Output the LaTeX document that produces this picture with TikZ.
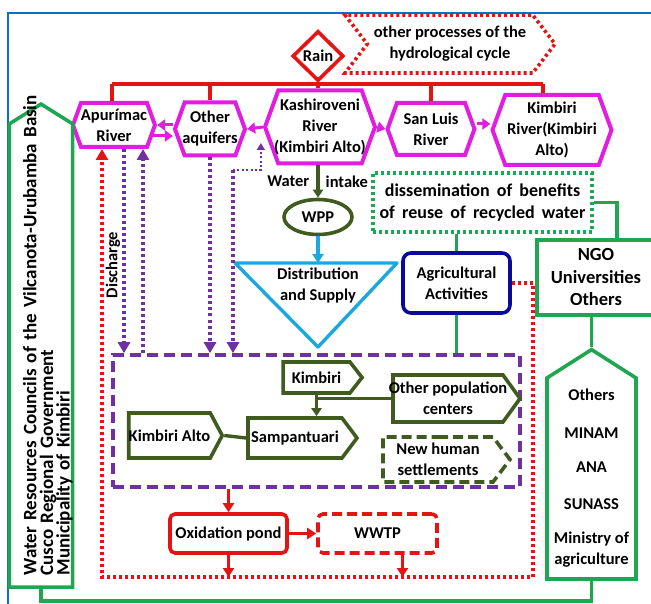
\documentclass[tikz,border=0pt]{standalone}
\usepackage{fontspec}
\setmainfont{Carlito}
\usetikzlibrary{arrows.meta,calc,shapes.geometric,shapes.symbols}
\definecolor{riverc}{HTML}{E21DE2}
\definecolor{rainc}{HTML}{E41414}
\definecolor{orgc}{HTML}{1FA651}
\definecolor{townc}{HTML}{3F5B1F}
\definecolor{aqc}{HTML}{7030A0}
\definecolor{skyc}{HTML}{1CA7DF}
\definecolor{agric}{HTML}{0A0A9E}
\definecolor{framec}{HTML}{0A70C6}
\newcommand{\widesp}{\spaceskip=0.4em\relax}
\tikzset{
  lbl/.style={font=\fontsize{16.5}{21}\selectfont\bfseries,align=center,inner sep=0pt},
  river/.style={lbl,shape=signal,signal to=east and west,signal pointer angle=140,
    draw=riverc,line width=4pt,inner xsep=-4pt},
  town/.style={lbl,shape=signal,signal to=east,signal pointer angle=108,
    draw=townc,line width=3.6pt},
  orgpent/.style={lbl,shape=signal,signal pointer angle=116,draw=orgc,line width=3.6pt},
  orgbox/.style={lbl,draw=orgc,line width=3.6pt},
  procbox/.style={lbl,shape=signal,signal from=west,signal to=east,signal pointer angle=105,
    draw=rainc,line width=3.6pt,dash pattern=on 3pt off 3pt},
  pondbox/.style={lbl,draw=rainc,line width=3.6pt,rounded corners=5pt},
  % --- connectors ---
  riverarr/.style={draw=riverc,line width=3pt,-{Triangle[length=8pt,width=11pt]}},
  rainline/.style={draw=rainc,line width=3.8pt},
  rainarr/.style={draw=rainc,line width=3pt,-{Triangle[length=9pt,width=11pt]}},
  dischg/.style={draw=rainc,line width=3.4pt,dash pattern=on 3pt off 3pt,
    -{Triangle[length=11pt,width=12pt]}},
  aqdot/.style={draw=aqc,line width=3.4pt,dash pattern=on 3pt off 3pt},
  aqthin/.style={draw=aqc,line width=2pt,dash pattern=on 2pt off 2.4pt},
  aqtip/.style={-{Triangle[length=11pt,width=12pt]}},
  townline/.style={draw=townc,line width=3.4pt},
  towntip/.style={-{Triangle[length=8pt,width=10pt]}},
  skyline/.style={draw=skyc,line width=3.4pt,line join=round},
  skyarr/.style={skyline,-{Triangle[length=9pt,width=11pt]}},
  orgline/.style={draw=orgc,line width=3.4pt},
}

\begin{document}
\begin{tikzpicture}[x=1pt,y=-1pt]
  \useasboundingbox (0,0) rectangle (651,604);
  \draw[framec,line width=2pt] (8,604) -- (8,13) -- (651,13);

  % rain and the rivers
  \node[lbl,shape=diamond,draw=rainc,line width=3.6pt,minimum width=51pt,minimum height=50pt]
    (rain) at (318,56) {Rain};
  \node[procbox,minimum width=210pt,minimum height=58pt] (proc) at (450,44)
    {other processes of the\\hydrological cycle};
  \node[river,minimum width=82pt,minimum height=44pt] (apu) at (114,125) {Apurímac\\River};
  \node[river,minimum width=70pt,minimum height=53pt] (oaq) at (210,129) {Other\\aquifers};
  \node[river,minimum width=110pt,minimum height=73pt,inner xsep=-6pt] (kash) at (320,127)
    {Kashiroveni\\River\\(Kimbiri Alto)};
  \node[river,minimum width=87pt,minimum height=52pt] (sanl) at (431,129) {San Luis\\River};
  \node[river,minimum width=119pt,minimum height=70pt] (kimriv) at (552,130)
    {Kimbiri\\River(Kimbiri\\Alto)};

  \coordinate (barL) at (112,84);
  \coordinate (barR) at (543,84);
  \draw[rainline] (barL) -- (barR);
  \draw[rainline] (barL) -- (barL |- apu.north);
  \draw[rainline] (oaq.north |- barL) -- (oaq.north);
  \draw[rainline] (rain.south) -- (rain.south |- kash.north);
  \draw[rainline] (sanl.north |- barL) -- (sanl.north);
  \draw[rainline] (barR) -- (barR |- kimriv.north);

  \draw[riverarr] (oaq.west |- 0,125) -- (apu.east |- 0,125);
  \draw[riverarr] ($(apu.east |- 0,136)+(-4,0)$) -- (oaq.west |- 0,136);
  \draw[riverarr] (kash.west) -- (oaq.east);
  \draw[riverarr] (kash.east) -- (sanl.west);
  \draw[riverarr] (sanl.east |- 0,124) -- (kimriv.west |- 0,124);

  % water supply
  \node[lbl,shape=ellipse,draw=townc,line width=3.6pt,minimum width=68pt,minimum height=35pt]
    (wpp) at (318,217) {WPP};
  \draw[townline,towntip] (wpp.north |- kash.south) --
    node[lbl,left=7pt]{Water} node[lbl,right=6pt]{intake} (wpp.north);
  \coordinate (distT) at (318,263);
  \coordinate (distA) at (318,347);
  \draw[skyline] (235,263) -- (397,263) -- (distA) -- cycle;
  \node[lbl] (dist) at (318,285) {Distribution\\and Supply};
  \draw[skyarr] (wpp.south) -- (distT);

  % population centres
  \node[lbl,draw=aqc,line width=3.6pt,dash pattern=on 11pt off 6pt,
    minimum width=407pt,minimum height=132pt] (pop) at (316.5,421) {};
  \node[town,minimum width=79pt,minimum height=31pt,signal pointer angle=104] (kimb) at (316.5,377.5) {Kimbiri};
  \node[town,minimum width=127pt,minimum height=47pt] (opc) at (448,398.5)
    {\makebox[100pt]{Other population}\\centers};
  \node[town,minimum width=109pt,minimum height=40pt,signal pointer angle=106] (samp) at (295,438) {Sampantuari};
  \node[town,minimum width=93pt,minimum height=45pt,signal pointer angle=124] (kalto) at (169.5,435.5) {Kimbiri Alto};
  \node[town,dash pattern=on 10pt off 5pt,minimum width=127pt,minimum height=45pt,signal pointer angle=106]
    (newh) at (438,459.5) {New human\\settlements};
  \draw[townline,towntip] (kimb.south) -- (kimb.south |- samp.north);
  \draw[townline] (kimb.south |- opc.west) -- (opc.west);
  \draw[townline] (kalto.east) -- (samp.west);

  % aquifer exchanges
  \coordinate (apuD) at ($(apu.south)+(10,0)$);
  \coordinate (apuU) at ($(apu.south)+(29,0)$);
  \coordinate (aqK) at (233,170);
  \coordinate (kashL) at ($(kash.west)+(-2,16)$);
  \draw[aqdot,aqtip] (apuD) -- (apuD |- pop.north);
  \draw[aqdot,aqtip] (apuU |- pop.north) -- (apuU);
  \draw[aqdot,aqtip] (oaq.south) -- (oaq.south |- pop.north);
  \draw[aqdot,aqtip] (aqK) -- (aqK |- pop.north);
  \draw[aqthin,-{Triangle[length=7pt,width=8pt]}] (aqK) -| (kashL);

  % agriculture and outreach
  \node[lbl,draw=agric,line width=3.6pt,rounded corners=8pt,minimum width=107pt,minimum height=60pt]
    (agri) at (456.5,283) {Agricultural\\Activities};
  \node[lbl,draw=orgc,line width=3.4pt,dash pattern=on 3pt off 3pt,minimum width=219pt,
    minimum height=59pt,font=\fontsize{18}{22}\selectfont\bfseries\widesp]
    (diss) at (482.5,202.5) {dissemination of benefits\\of reuse of recycled water};
  \node[orgbox,minimum width=118pt,minimum height=75pt,font=\fontsize{18.5}{22.5}\selectfont\bfseries]
    (ngo) at (596,277.5) {NGO\\Universities\\Others};
  \node[orgpent,signal to=north,minimum width=89pt,minimum height=225pt,signal pointer angle=115]
    (orgs) at (591.5,478.5)
    {Others\\[17pt]MINAM\\[13pt]ANA\\[16pt]SUNASS\\[13pt]Ministry of\\agriculture};
  \node[orgpent,signal to=east,rotate=90,align=left,text width=440pt,minimum width=483pt,
    minimum height=58pt,font=\fontsize{19}{16.7}\selectfont\bfseries] (wrc) at (41,355.5)
    {\rule{0pt}{27pt}\mbox{Water Resources Councils of the Vilcanota-Urubamba Basin}\\Cusco Regional Government\\Municipality of Kimbiri};
  \draw[orgline] (diss.east) -| ([xshift=21pt]ngo.north);
  \draw[orgline] (agri.north |- diss.south) -- (agri.north);
  \draw[orgline] (agri.south) -- (agri.south |- pop.north);
  \draw[orgline] (orgs.north |- ngo.south) -- (orgs.north);
  \draw[orgline] (wrc.west) -- ++(0,12) -| (orgs.south);

  % treatment and discharge
  \node[pondbox,minimum width=117pt,minimum height=39pt] (oxi) at (228.5,533.5) {Oxidation pond};
  \node[pondbox,dash pattern=on 10pt off 5pt,minimum width=119pt,minimum height=39pt]
    (wwtp) at (377.5,533.5) {WWTP};
  \coordinate (dR) at (533,577);
  \coordinate (dL) at (102,577);
  \coordinate (wD) at ($(wwtp.south)+(25,0)$);
  \draw[dischg] (agri.east) -| (dR) -- (dL) -- (dL |- apu.south);
  \node[lbl,rotate=90] (dlab) at (113,265) {Discharge};
  \draw[rainarr] (oxi.north |- pop.south) -- (oxi.north);
  \draw[rainarr] (oxi.east) -- (wwtp.west);
  \draw[rainarr] (oxi.south) -- (oxi.south |- dL);
  \draw[rainarr] (wD) -- (wD |- dL);
\end{tikzpicture}
\end{document}
